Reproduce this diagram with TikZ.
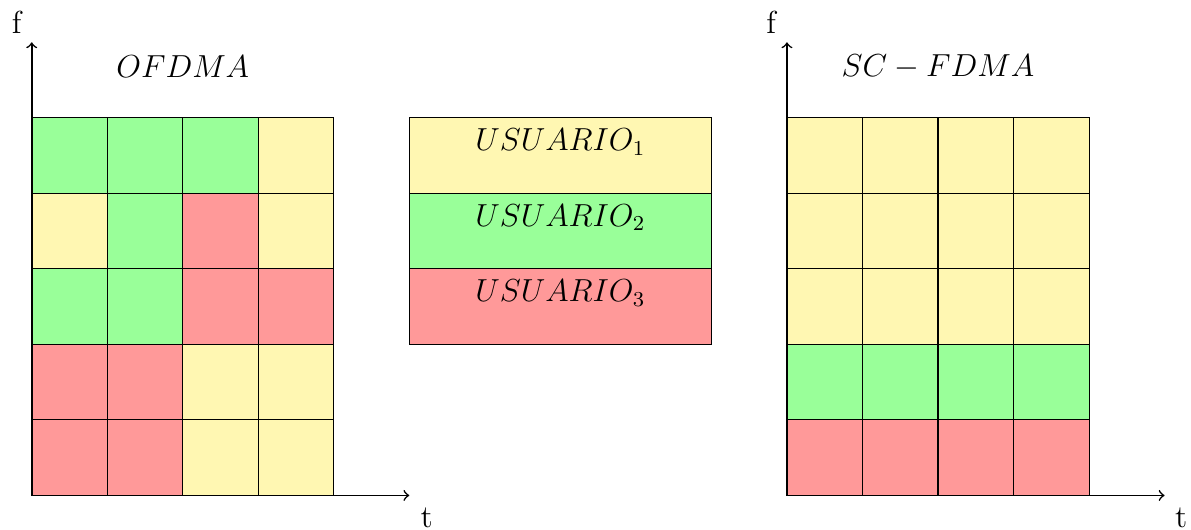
\documentclass[tikz,border=0pt]{standalone}
\usetikzlibrary{positioning}
% colours of the three users
\definecolor{usr1}{RGB}{255,247,178}
\colorlet{usr2}{green!40}
\colorlet{usr3}{red!40}
\begin{document}
\begin{tikzpicture}[font=\large]
            \useasboundingbox (-0.42,-0.45) rectangle (15.35,6.56);
            % OFDMA grid
            \foreach \x/\y/\c in {0/4/usr2, 1/4/usr2, 2/4/usr2, 3/4/usr1,
                                  0/3/usr1, 1/3/usr2, 2/3/usr3, 3/3/usr1,
                                  0/2/usr2, 1/2/usr2, 2/2/usr3, 3/2/usr3,
                                  0/1/usr3, 1/1/usr3, 2/1/usr1, 3/1/usr1,
                                  0/0/usr3, 1/0/usr3, 2/0/usr1, 3/0/usr1} {
                \filldraw[fill=\c] (\x,\y) rectangle ++(1,1);
            }
            % SC-FDMA grid
            \foreach \x in {10,11,12,13} {
                \foreach \y/\c in {0/usr3, 1/usr2, 2/usr1, 3/usr1, 4/usr1} {
                    \filldraw[fill=\c] (\x,\y) rectangle ++(1,1);
                }
            }
            % Legend
            \foreach \y/\n in {4/1, 3/2, 2/3} {
                \filldraw[fill=usr\n] (5,\y) rectangle ++(4,1);
                \node (leg\n) at (7,\y+0.68) {$USUARIO_{\n}$};
            }
            % Axes
            \coordinate (o1) at (0,0);
            \coordinate (f1) at (0,6);
            \coordinate (t1) at (5,0);
            \coordinate (o2) at (10,0);
            \coordinate (f2) at (10,6);
            \coordinate (t2) at (15,0);
            \draw[->, semithick] (o1) -- (f1);
            \draw[->, semithick] (o1) -- (t1);
            \draw[->, semithick] (o2) -- (f2);
            \draw[->, semithick] (o2) -- (t2);
            \node (flab1) at (-0.2,6.26) {f};
            \node (tlab1) at (5.23,-0.3) {t};
            \node (flab2) at (9.79,6.26) {f};
            \node (tlab2) at (15.22,-0.3) {t};
            % Titles
            \node (ofdma) at (2,5.68) {$OFDMA$};
            \node (scfdma) at (12,5.68) {$SC-FDMA$};
        \end{tikzpicture}
\end{document}
